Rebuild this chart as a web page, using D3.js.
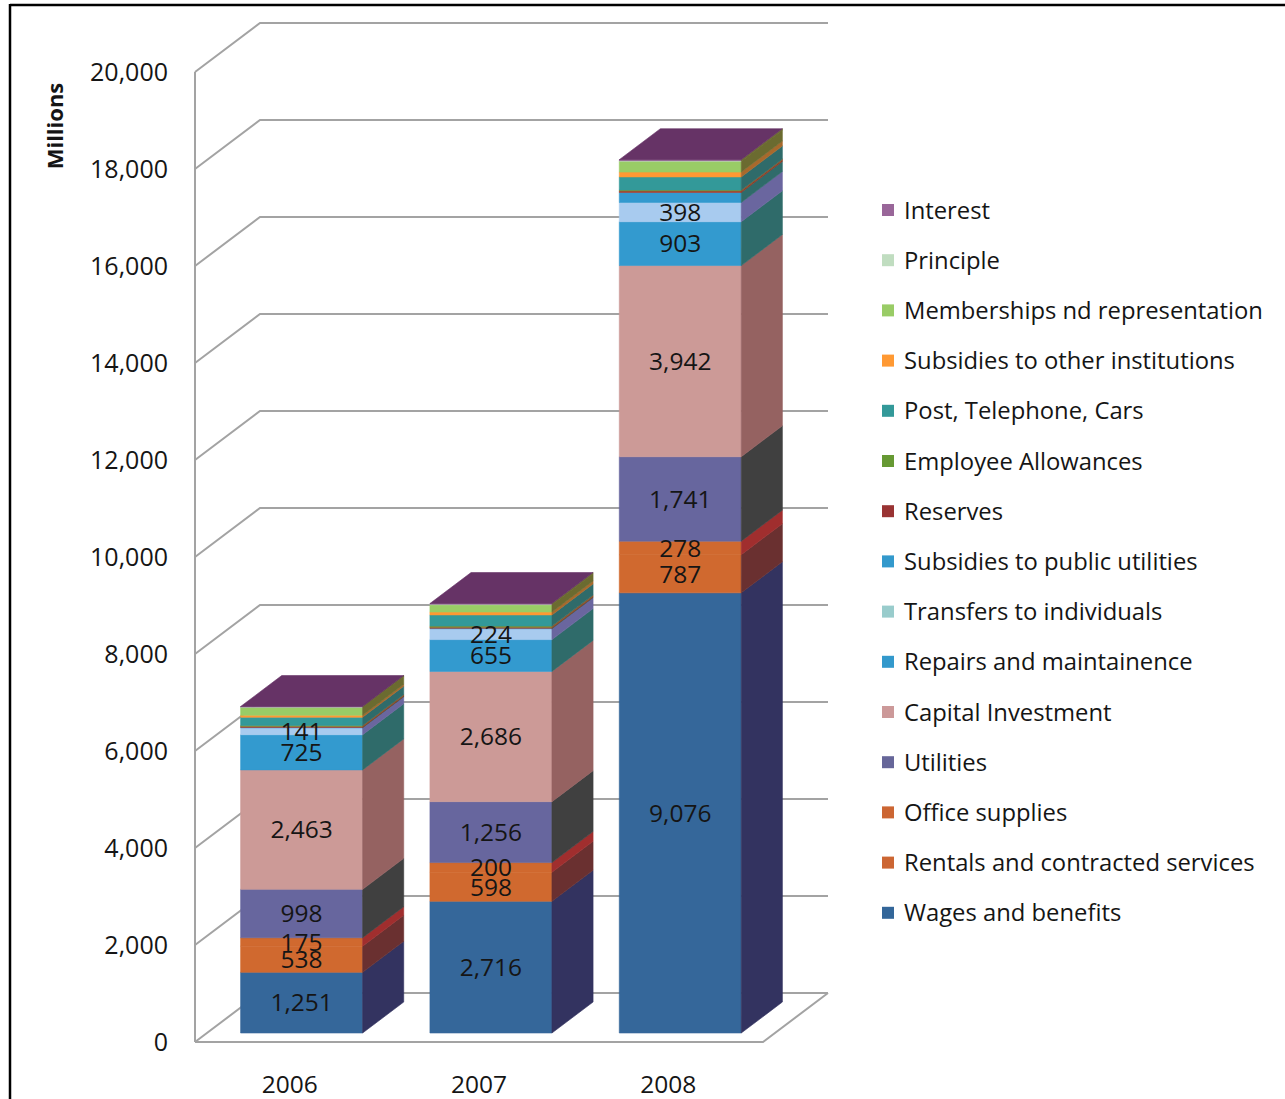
<!DOCTYPE html>
<html>
<head>
<meta charset="utf-8">
<script src="https://cdn.jsdelivr.net/npm/d3@7"></script>
<style>
  html, body { margin: 0; padding: 0; background: #fff; }
  svg { display: block; }
  text { font-family: "Open Sans", "DejaVu Sans", sans-serif; fill: #151515; }
</style>
</head>
<body>
<svg id="chart" width="1285" height="1099"></svg>
<script>
// Budget years shown on the category axis
const years = ["2006", "2007", "2008"];

// Spending per category, in millions (stacked bottom to top)
const wagesAndBenefits        = [1251, 2716, 9076];
const rentalsAndContracted    = [538, 598, 787];
const officeSupplies          = [175, 200, 278];
const utilities               = [998, 1256, 1741];
const capitalInvestment       = [2463, 2686, 3942];
const repairsAndMaintainence  = [725, 655, 903];
const transfersToIndividuals  = [141, 224, 398];
const subsidiesPublicUtil     = [10, 10, 206];
const reserves                = [20, 20, 30];
const employeeAllowances      = [20, 25, 20];
const postTelephoneCars       = [170, 230, 270];
const subsidiesOtherInst      = [40, 60, 100];
const membershipsRepresent    = [165, 150, 225];
const principle               = [5, 10, 10];
const interest                = [10, 15, 20];

const seriesNames = [
  "Wages and benefits", "Rentals and contracted services", "Office supplies",
  "Utilities", "Capital Investment", "Repairs and maintainence",
  "Transfers to individuals", "Subsidies to public utilities", "Reserves",
  "Employee Allowances", "Post, Telephone, Cars", "Subsidies to other institutions",
  "Memberships nd representation", "Principle", "Interest"
];
const seriesValues = [
  wagesAndBenefits, rentalsAndContracted, officeSupplies, utilities,
  capitalInvestment, repairsAndMaintainence, transfersToIndividuals,
  subsidiesPublicUtil, reserves, employeeAllowances, postTelephoneCars,
  subsidiesOtherInst, membershipsRepresent, principle, interest
];
// Series that carry a value label on the front face
const labelledSeries = 7;

// Value axis ticks
const yTicks = [0, 2000, 4000, 6000, 8000, 10000, 12000, 14000, 16000, 18000, 20000];

// Colours: legend swatch, front face, side face
const legendColors = ["#336699", "#CC6633", "#CC6633", "#666699", "#CC9999", "#3399CC",
  "#99CCCC", "#3399CC", "#993333", "#669933", "#339999", "#FF9933", "#99CC66", "#C0DDC0", "#996699"];
const frontColors = ["#35679A", "#D0692F", "#D0692F", "#67669E", "#CC9A97", "#339ACF",
  "#A8CBEF", "#339ACF", "#A83B2E", "#7E8E35", "#339999", "#FF9933", "#99CC66", "#C0DDC0", "#996699"];
const sideColors = ["#333360", "#6A3030", "#A02E2E", "#404040", "#956261", "#2F6B6A",
  "#6A669F", "#2F6B6A", "#8A3A2A", "#8A5A2A", "#2F6B6A", "#A8692C", "#6B6B30", "#6B6B30", "#6B6B30"];
const topColor = "#663366";

const svg = d3.select("#chart");

// ---- 3D frame geometry ----
const floorY = 1042;           // front edge of the floor
const xLeft = 195, xRight = 763;
const depthX = 65, depthY = -49;   // full depth of the plot box
const barFront = 9 / 49, barBack = 40 / 49;  // bars sit inside the depth

const h = d3.scaleLinear().domain([0, 20000]).range([0, 970]);
const yFront = d3.scaleLinear().domain([0, 20000]).range([floorY, floorY - 970]);
const xBand = d3.scaleBand().domain(years).range([xLeft, xRight])
  .paddingInner(0.3556).paddingOuter(0.1778);

const proj = (x, v, d) => [x + depthX * d, floorY - h(v) + depthY * d];

// ---- outer border ----
svg.append("line").attr("x1", 10).attr("y1", 5).attr("x2", 1285).attr("y2", 5)
  .attr("stroke", "#000").attr("stroke-width", 2.5);
svg.append("line").attr("x1", 10).attr("y1", 4).attr("x2", 10).attr("y2", 1099)
  .attr("stroke", "#000").attr("stroke-width", 2.5);

// ---- walls and gridlines ----
const grid = svg.append("g").attr("fill", "none").attr("stroke", "#A3A3A3").attr("stroke-width", 2);
yTicks.forEach(v => {
  const a = proj(xLeft, v, 0), b = proj(xLeft, v, 1), c = proj(xRight, v, 1);
  grid.append("path").attr("d", d3.line()([a, b, c]));
});
// left wall front edge
grid.append("path").attr("d", d3.line()([proj(xLeft, 0, 0), proj(xLeft, 20000, 0)]));
// floor front and right edge
grid.append("path").attr("d", d3.line()([proj(xLeft, 0, 0), proj(xRight, 0, 0), proj(xRight, 0, 1)]));

// ---- stacked 3D bars ----
const bars = svg.append("g");
const fmt = d3.format(",");
years.forEach((yr, i) => {
  const x0 = xBand(yr), x1 = x0 + xBand.bandwidth();
  let base = 0;
  const segs = seriesValues.map((vals, s) => {
    const seg = { s, lo: base, hi: base + vals[i], v: vals[i] };
    base += vals[i];
    return seg;
  });
  const g = bars.append("g");
  segs.forEach(sg => {
    // front face
    const fp = [proj(x0, sg.lo, barFront), proj(x1, sg.lo, barFront),
                proj(x1, sg.hi, barFront), proj(x0, sg.hi, barFront)];
    g.append("path").attr("d", d3.line()(fp) + "Z").attr("fill", frontColors[sg.s])
      .attr("stroke", frontColors[sg.s]).attr("stroke-width", 0.6);
    // side face
    const sp = [proj(x1, sg.lo, barFront), proj(x1, sg.lo, barBack),
                proj(x1, sg.hi, barBack), proj(x1, sg.hi, barFront)];
    g.append("path").attr("d", d3.line()(sp) + "Z").attr("fill", sideColors[sg.s])
      .attr("stroke", sideColors[sg.s]).attr("stroke-width", 0.6);
  });
  // top face
  const tp = [proj(x0, base, barFront), proj(x1, base, barFront),
              proj(x1, base, barBack), proj(x0, base, barBack)];
  g.append("path").attr("d", d3.line()(tp) + "Z").attr("fill", topColor)
    .attr("stroke", topColor).attr("stroke-width", 0.6);

  // value labels
  segs.slice(0, labelledSeries).forEach(sg => {
    const c = proj((x0 + x1) / 2, (sg.lo + sg.hi) / 2, barFront);
    g.append("text").attr("x", c[0]).attr("y", c[1]).attr("dy", "0.36em")
      .attr("text-anchor", "middle").attr("font-size", 24.5).text(fmt(sg.v));
  });
});

// ---- value axis ----
const yAxis = d3.axisLeft(yFront).tickValues(yTicks).tickFormat(fmt).tickSize(0).tickPadding(27);
const ya = svg.append("g").attr("transform", `translate(${xLeft},0)`).call(yAxis);
ya.select(".domain").remove();
ya.selectAll("text").attr("font-size", 25).attr("fill", "#151515")
  .style("font-family", "'Open Sans', sans-serif");

svg.append("text").attr("transform", "translate(63,126) rotate(-90)")
  .attr("text-anchor", "middle").attr("font-size", 22).attr("font-weight", "bold")
  .text("Millions");

// ---- category axis ----
const xAxis = d3.axisBottom(xBand).tickSize(0).tickPadding(34);
const xa = svg.append("g").attr("transform", `translate(0,${floorY})`).call(xAxis);
xa.select(".domain").remove();
xa.selectAll("text").attr("font-size", 24.5).attr("fill", "#151515")
  .style("font-family", "'Open Sans', sans-serif");

// ---- legend (top of stack first) ----
const legend = svg.append("g").attr("transform", "translate(882,210)");
const order = d3.range(seriesNames.length).reverse();
order.forEach((s, k) => {
  const row = legend.append("g").attr("transform", `translate(0,${k * 50.2})`);
  row.append("rect").attr("x", 0).attr("y", -6).attr("width", 12).attr("height", 12)
    .attr("fill", legendColors[s]);
  row.append("text").attr("x", 22).attr("y", 0).attr("dy", "0.36em")
    .attr("font-size", 23.8).text(seriesNames[s]);
});
</script>
</body>
</html>
